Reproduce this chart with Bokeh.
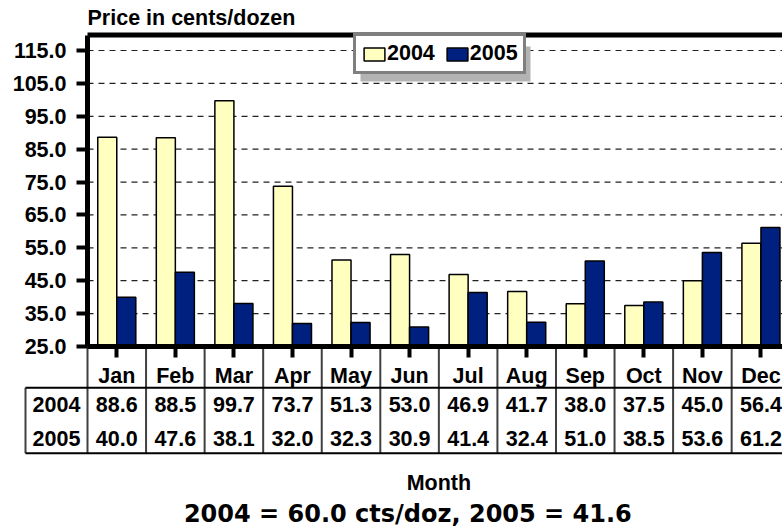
from bokeh.plotting import figure
from bokeh.models import Range1d, FixedTicker, Legend, LegendItem, ColumnDataSource, PrintfTickFormatter, LinearAxis
from bokeh.core.properties import value
from bokeh.embed import file_html
from bokeh.resources import INLINE

# ---------------- data ----------------
months = ["Jan", "Feb", "Mar", "Apr", "May", "Jun", "Jul", "Aug", "Sep", "Oct", "Nov", "Dec"]
series_names = ["2004", "2005"]
price_2004 = [88.6, 88.5, 99.7, 73.7, 51.3, 53.0, 46.9, 41.7, 38.0, 37.5, 45.0, 56.4]
price_2005 = [40.0, 47.6, 38.1, 32.0, 32.3, 30.9, 41.4, 32.4, 51.0, 38.5, 53.6, 61.2]
y_ticks = [25, 35, 45, 55, 65, 75, 85, 95, 105, 115]
y_title = "Price in cents/dozen"
x_title = "Month"
footnote = "2004 = 60.0 cts/doz, 2005 = 41.6"

# ---------------- styles / layout ----------------
C04 = "#FFFFC0"
C05 = "#002080"
FONT = value("Liberation Sans")
FS = "21.5px"
W, H = 782, 528
U = 58.56                 # px per month
K = 90.0 / 296.0          # value units per px
AX_X, AX_Y = 87, 346      # pixel position of plot-area left / bottom
Y0 = 25
BW = 0.325
TS = 7.5                  # baseline correction for text glyphs (px)
TS_FOOT = 8.5


def xd(px):
    return (px - AX_X) / U


def yd(py):
    return Y0 + (AX_Y - py) * K


n = len(months)
centers = [i + 0.5 for i in range(n)]
x_end = xd(W)
border_val = yd(34.5)

p = figure(width=W, height=H, min_border=0, x_range=Range1d(xd(0), x_end),
           y_range=Range1d(yd(H), yd(0)), x_axis_location=None, y_axis_location=None,
           output_backend="svg", toolbar_location=None, title=None)
p.outline_line_color = None
p.grid.visible = False

# dashed grid lines
gt = y_ticks[1:]
p.segment(x0=[0] * len(gt), y0=gt, x1=[x_end] * len(gt), y1=gt,
          line_color="#222222", line_dash="6 5", line_width=1.2)

# y axis at the plot-area edge
ya = LinearAxis(fixed_location=0, ticker=FixedTicker(ticks=y_ticks),
                formatter=PrintfTickFormatter(format="%.1f"), bounds=(Y0, border_val))
ya.axis_line_width = 5
ya.axis_line_color = "black"
ya.major_tick_out = 11
ya.major_tick_in = 0
ya.major_tick_line_width = 4
ya.minor_tick_line_color = None
ya.major_label_standoff = 10
ya.major_label_text_font = "Liberation Sans"
ya.major_label_text_font_style = "bold"
ya.major_label_text_font_size = FS
ya.major_label_text_color = "black"
p.add_layout(ya, "left")

# x axis along the bottom of the plot area
xa = LinearAxis(fixed_location=Y0, ticker=FixedTicker(ticks=centers), bounds=(0, x_end))
xa.major_label_overrides = {c: "" for c in centers}
xa.major_label_text_font_size = "0px"
xa.major_label_standoff = 0
xa.axis_line_width = 5
xa.axis_line_color = "black"
xa.major_tick_out = 11
xa.major_tick_in = 0
xa.major_tick_line_width = 4
xa.major_tick_line_color = "black"
xa.minor_tick_line_color = None

# bars
src = ColumnDataSource(dict(
    x04=[c - BW / 2 for c in centers],
    x05=[c + BW / 2 for c in centers],
    v04=price_2004, v05=price_2005,
))
r1 = p.vbar(x="x04", top="v04", bottom=Y0, width=BW, source=src,
            fill_color=C04, line_color="black", line_width=1.5)
r2 = p.vbar(x="x05", top="v05", bottom=Y0, width=BW, source=src,
            fill_color=C05, line_color="black", line_width=1.5)

# top border of plot area
p.segment(x0=[0], y0=[border_val], x1=[x_end], y1=[border_val], line_color="black", line_width=5)

p.add_layout(xa, "below")

# title
p.text(x=[0], y=[yd(25 - TS)], text=[y_title], text_font=FONT, text_font_style="bold",
       text_font_size=FS, text_align="left", text_baseline="alphabetic", text_color="black")

# legend with shadow
LG_L, LG_T, LG_W, LG_H, SH = 353, 39, 170, 35, 7
p.quad(left=[xd(LG_L + SH)], right=[xd(LG_L + LG_W + SH)],
       bottom=[yd(LG_T + LG_H + SH)], top=[yd(LG_T + SH)],
       fill_color="#B3B3B3", line_color=None)
legend = Legend(items=[LegendItem(label=series_names[0], renderers=[r1]),
                       LegendItem(label=series_names[1], renderers=[r2])],
                location=(LG_L, H - LG_T - LG_H), orientation="horizontal",
                padding=5, margin=0, spacing=9, label_standoff=0,
                glyph_width=26, glyph_height=16,
                border_line_color="black", border_line_width=3.5,
                background_fill_color="white", background_fill_alpha=1,
                label_text_font="Liberation Sans", label_text_font_style="bold",
                label_text_font_size=FS, label_text_color="black")
p.add_layout(legend)

# ---------------- data table ----------------
x_left = xd(25)
t_top, t_mid, t_bot = yd(AX_Y), yd(387.3), yd(452.7)
bounds = list(range(n + 1))
p.segment(x0=bounds, y0=[t_top] * len(bounds), x1=bounds, y1=[t_bot] * len(bounds),
          line_color="#404040", line_width=2)
p.segment(x0=[x_left], y0=[t_mid], x1=[x_left], y1=[t_bot], line_color="#404040", line_width=2)
p.segment(x0=[x_left, x_left], y0=[t_mid, t_bot], x1=[n, n], y1=[t_mid, t_bot],
          line_color="black", line_width=2)

tstyle = dict(text_font=FONT, text_font_style="bold", text_font_size=FS,
              text_align="center", text_baseline="alphabetic", text_color="black")
p.text(x=centers, y=[yd(383 - TS)] * n, text=months, **tstyle)
p.text(x=centers, y=[yd(411.7 - TS)] * n, text=[f"{v:.1f}" for v in price_2004], **tstyle)
p.text(x=centers, y=[yd(445 - TS)] * n, text=[f"{v:.1f}" for v in price_2005], **tstyle)
p.text(x=[x_left / 2, x_left / 2], y=[yd(411.7 - TS), yd(445 - TS)], text=series_names, **tstyle)
p.text(x=[n / 2], y=[yd(490 - TS)], text=[x_title], **tstyle)
p.text(x=[(x_left + n) / 2], y=[yd(521.7 - TS_FOOT)], text=[footnote], text_font=value("DejaVu Sans"),
       text_font_style="bold", text_font_size="24px", text_align="center",
       text_baseline="alphabetic", text_color="black")

open("out.html", "w").write(file_html(p, INLINE))
